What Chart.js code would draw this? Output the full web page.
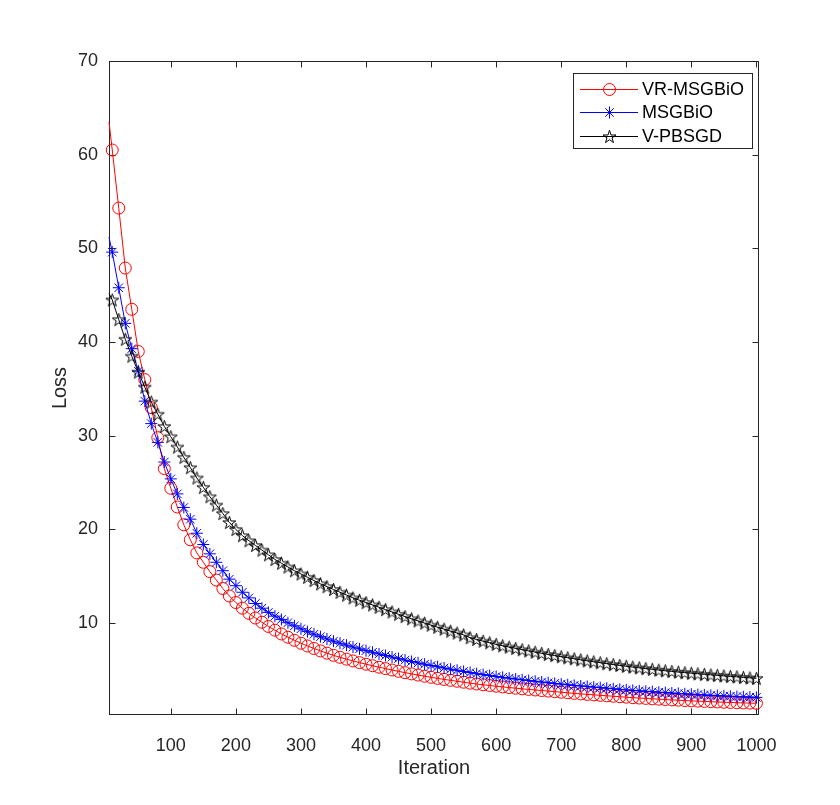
<!DOCTYPE html>
<html><head><meta charset="utf-8">
<script src="https://cdn.jsdelivr.net/npm/chart.js@4.4.0/dist/chart.umd.min.js"></script>
<style>html,body{margin:0;padding:0;background:#fff;} canvas{display:block;}</style>
</head><body>
<canvas id="c" width="840" height="805"></canvas>
<script>
// ---- data ----
const iterations = [5,10,20,30,40,50,60,70,80,90,100,110,120,130,140,150,160,170,180,190,200,
210,220,230,240,250,260,270,280,290,300,310,320,330,340,350,360,370,380,390,400,
410,420,430,440,450,460,470,480,490,500,510,520,530,540,550,560,570,580,590,600,
610,620,630,640,650,660,670,680,690,700,710,720,730,740,750,760,770,780,790,800,
810,820,830,840,850,860,870,880,890,900,910,920,930,940,950,960,970,980,990,1000];

const vrMsgbio = [63.5,60.5,54.3,47.9,43.5,39.0,36.0,33.0,29.8,26.5,24.4,22.4,20.5,18.9,17.5,16.5,15.5,14.6,13.7,12.9,12.2,
11.6,11.05,10.55,10.1,9.65,9.25,8.85,8.5,8.17,7.86,7.57,7.3,7.04,6.8,6.57,6.36,6.16,5.97,5.79,5.62,
5.46,5.3,5.15,5.0,4.86,4.72,4.59,4.46,4.34,4.22,4.11,4.0,3.9,3.8,3.7,3.6,3.51,3.43,3.35,3.27,
3.2,3.13,3.06,2.99,2.93,2.87,2.81,2.75,2.69,2.63,2.57,2.51,2.45,2.4,2.35,2.3,2.25,2.2,2.15,2.1,
2.05,2.01,1.97,1.93,1.89,1.85,1.81,1.78,1.74,1.71,1.68,1.65,1.62,1.59,1.56,1.54,1.51,1.49,1.47,1.45];

const msgbio = [51.2,49.6,45.8,42.0,39.3,36.9,33.7,31.3,29.3,27.2,25.4,23.8,22.35,21.1,19.6,18.4,17.4,16.5,15.6,14.7,14.0,
13.3,12.7,12.1,11.6,11.15,10.75,10.4,10.05,9.72,9.4,9.1,8.82,8.56,8.31,8.08,7.86,7.65,7.45,7.26,7.07,
6.89,6.72,6.55,6.38,6.22,6.06,5.91,5.76,5.62,5.48,5.35,5.22,5.09,4.97,4.85,4.73,4.61,4.51,4.41,4.31,
4.22,4.13,4.04,3.96,3.88,3.8,3.72,3.64,3.57,3.5,3.43,3.36,3.3,3.24,3.18,3.12,3.06,3.0,2.94,2.88,
2.83,2.78,2.73,2.68,2.63,2.59,2.54,2.5,2.46,2.42,2.38,2.34,2.3,2.27,2.23,2.2,2.17,2.14,2.11,2.08];

const vPbsgd = [45.2,44.5,42.4,40.3,38.5,36.8,35.2,33.6,32.3,31.0,29.9,28.8,27.7,26.6,25.5,24.5,23.5,22.6,21.7,20.75,20.0,
19.35,18.8,18.3,17.8,17.3,16.8,16.4,16.0,15.6,15.25,14.9,14.55,14.2,13.9,13.6,13.3,13.0,12.7,12.45,12.2,
11.95,11.7,11.45,11.2,10.95,10.7,10.47,10.24,10.01,9.79,9.57,9.36,9.15,8.95,8.75,8.45,8.26,8.08,7.91,7.74,
7.59,7.45,7.31,7.17,7.04,6.91,6.78,6.66,6.54,6.42,6.31,6.2,6.09,5.98,5.88,5.78,5.68,5.58,5.49,5.4,
5.31,5.23,5.15,5.07,4.99,4.92,4.85,4.78,4.72,4.66,4.6,4.54,4.48,4.43,4.37,4.32,4.27,4.21,4.16,4.11];

const seriesNames = ['VR-MSGBiO','MSGBiO','V-PBSGD'];
const xTickValues = [100,200,300,400,500,600,700,800,900,1000];
const yTickValues = [10,20,30,40,50,60,70];

// ---- styling ----
const FONT = '"Liberation Sans", Arial, Helvetica, sans-serif';
const AXIS_COLOR = '#262626';

function makePentagram(color){
  const s = 17, c = document.createElement('canvas');
  c.width = s; c.height = s;
  const g = c.getContext('2d');
  const R = 6.8, r = R*0.382, cx = s/2, cy = s/2 + 0.6;
  g.beginPath();
  for (let i = 0; i < 10; i++){
    const rad = (i % 2 === 0) ? R : r;
    const a = -Math.PI/2 + i*Math.PI/5;
    const px = cx + rad*Math.cos(a), py = cy + rad*Math.sin(a);
    if (i === 0) g.moveTo(px, py); else g.lineTo(px, py);
  }
  g.closePath();
  g.strokeStyle = color; g.lineWidth = 1; g.stroke();
  return c;
}
const pentagram = makePentagram('#000000');

function pts(vals){ return iterations.map((x,i)=>({x:x, y:vals[i]})); }
function radii(r){ return iterations.map((x,i)=> i===0 ? 0 : r); }

const matlabAxes = {
  id:'matlabAxes',
  beforeDatasetsDraw(chart){
    const {ctx, chartArea:a, scales:{x, y}} = chart;
    ctx.save();
    ctx.strokeStyle = AXIS_COLOR; ctx.lineWidth = 1;
    ctx.strokeRect(Math.round(a.left)+0.5, Math.round(a.top)+0.5, Math.round(a.right-a.left)-1, Math.round(a.bottom-a.top)-1);
    const tl = 6.5;
    ctx.beginPath();
    xTickValues.forEach(v=>{
      const px = Math.round(x.getPixelForValue(v))+0.5;
      ctx.moveTo(px, a.bottom); ctx.lineTo(px, a.bottom - tl);
      ctx.moveTo(px, a.top); ctx.lineTo(px, a.top + tl);
    });
    yTickValues.forEach(v=>{
      const py = Math.round(y.getPixelForValue(v))+0.5;
      ctx.moveTo(a.left, py); ctx.lineTo(a.left + tl, py);
      ctx.moveTo(a.right, py); ctx.lineTo(a.right - tl, py);
    });
    ctx.stroke();
    ctx.restore();
  },
  afterDraw(chart){
    const {ctx} = chart;
    const bx = 573, by = 73, bw = 179, bh = 75;
    ctx.save();
    ctx.fillStyle = '#ffffff';
    ctx.fillRect(bx, by, bw, bh);
    ctx.strokeStyle = AXIS_COLOR; ctx.lineWidth = 1;
    ctx.strokeRect(bx+0.5, by+0.5, bw, bh);
    const rows = [89.5, 112.5, 136.5];
    const colors = ['#ff0000','#0000ff','#000000'];
    rows.forEach((ry, i)=>{
      ctx.strokeStyle = colors[i]; ctx.lineWidth = 1;
      ctx.beginPath(); ctx.moveTo(580, ry); ctx.lineTo(638, ry); ctx.stroke();
      const mx = 609.5;
      if (i === 0){
        ctx.beginPath(); ctx.arc(mx, ry, 6, 0, Math.PI*2); ctx.stroke();
      } else if (i === 1){
        ctx.beginPath();
        const r = 6, d = r*Math.SQRT1_2;
        ctx.moveTo(mx, ry-r); ctx.lineTo(mx, ry+r);
        ctx.moveTo(mx-r, ry); ctx.lineTo(mx+r, ry);
        ctx.moveTo(mx-d, ry-d); ctx.lineTo(mx+d, ry+d);
        ctx.moveTo(mx-d, ry+d); ctx.lineTo(mx+d, ry-d);
        ctx.stroke();
      } else {
        ctx.drawImage(pentagram, mx - pentagram.width/2, ry - pentagram.height/2);
      }
      ctx.fillStyle = '#000000';
      ctx.font = '18px ' + FONT;
      ctx.textBaseline = 'middle'; ctx.textAlign = 'left';
      ctx.fillText(seriesNames[i], 642, ry + 0.5);
    });
    ctx.restore();
  }
};

new Chart(document.getElementById('c'), {
  type: 'line',
  data: {
    datasets: [
      { label: seriesNames[0], data: pts(vrMsgbio), borderColor:'#ff0000', borderWidth:1,
        pointStyle:'circle', pointRadius: radii(6), pointBorderColor:'#ff0000', pointBackgroundColor:'rgba(0,0,0,0)',
        pointBorderWidth:1, tension:0, order:2, clip:false },
      { label: seriesNames[1], data: pts(msgbio), borderColor:'#0000ff', borderWidth:1,
        pointStyle:'star', pointRadius: radii(6), pointBorderColor:'#0000ff', pointBackgroundColor:'rgba(0,0,0,0)',
        pointBorderWidth:1, tension:0, order:1, clip:false },
      { label: seriesNames[2], data: pts(vPbsgd), borderColor:'#000000', borderWidth:1,
        pointStyle: iterations.map((x,i)=> i===0 ? false : pentagram), pointRadius: radii(6),
        pointBorderColor:'#000000', pointBackgroundColor:'rgba(0,0,0,0)',
        pointBorderWidth:1, tension:0, order:0, clip:false }
    ]
  },
  options: {
    responsive:false, devicePixelRatio:1, animation:false,
    layout:{padding:{top:61, right:81, left:0, bottom:0}},
    plugins:{legend:{display:false}, tooltip:{enabled:false}},
    scales:{
      x:{ type:'linear', min:5, max:1004,
        afterBuildTicks: s => { s.ticks = xTickValues.map(v=>({value:v})); },
        afterFit: s => { s.height = 90; },
        grid:{display:false, drawTicks:false, tickLength:0}, border:{display:false},
        ticks:{ autoSkip:false, maxRotation:0, minRotation:0, padding:20, color:AXIS_COLOR,
          font:{family:FONT, size:18}, callback: v => String(v) },
        title:{ display:true, text:'Iteration', color:AXIS_COLOR, font:{family:FONT, size:20},
          padding:{top:0, bottom:25} }
      },
      y:{ type:'linear', min:0.2, max:70,
        afterBuildTicks: s => { s.ticks = yTickValues.map(v=>({value:v})); },
        afterFit: s => { s.width = 109; },
        grid:{display:false, drawTicks:false, tickLength:0}, border:{display:false},
        ticks:{ padding:11, color:AXIS_COLOR, font:{family:FONT, size:18}, callback: v => String(v) },
        title:{ display:true, text:'Loss', color:AXIS_COLOR, font:{family:FONT, size:20},
          padding:{top:48, bottom:0} }
      }
    }
  },
  plugins:[matlabAxes]
});
</script>
</body></html>
